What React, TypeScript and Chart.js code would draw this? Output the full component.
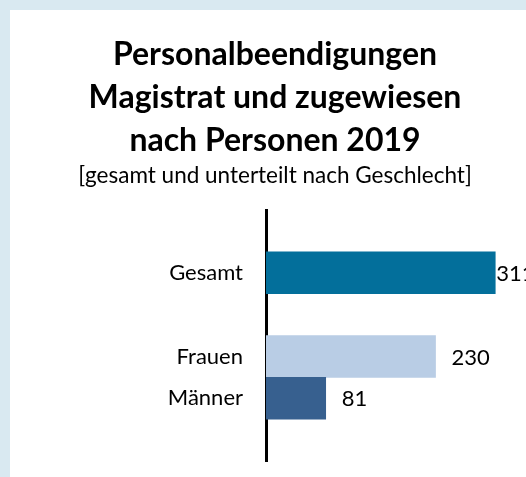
import React, { useEffect, useRef } from "react";
import { Chart, registerables } from "chart.js";

Chart.register(...registerables);

const titleLines = ["Personalbeendigungen", "Magistrat und zugewiesen", "nach Personen 2019"];
const subtitleText = "[gesamt und unterteilt nach Geschlecht]";
const categories = ["Gesamt", "Frauen", "Männer"];
const values = [311, 230, 81];
const barColors = ["#036f9b", "#b9cde5", "#37608f"];
const axisMax = 350;

// "Gesamt" stands on its own, then a blank row, then the two gender rows;
// one empty row pads the top and the bottom of the plot.
const rowLabels = ["", categories[0], "", categories[1], categories[2], ""];
const rowValues: (number | null)[] = [null, values[0], null, values[1], values[2], null];
const rowColors = ["transparent", barColors[0], "transparent", barColors[1], barColors[2], "transparent"];

const FONT = "Lato, 'Open Sans', sans-serif";

// Prints each bar's value to the right of it; when the text would run off
// the canvas it sits directly at the bar end instead.
const valueLabels = {
  id: "valueLabels",
  afterDatasetsDraw(chart: any) {
    const { ctx } = chart;
    const meta = chart.getDatasetMeta(0);
    ctx.save();
    ctx.font = `22px ${FONT}`;
    ctx.fillStyle = "#000";
    ctx.textBaseline = "middle";
    ctx.textAlign = "left";
    meta.data.forEach((bar: any, i: number) => {
      const v = rowValues[i];
      if (v == null) return;
      const text = String(v);
      const w = ctx.measureText(text).width;
      let x = bar.x + 16;
      if (x + w > chart.width) x = bar.x + 1;
      ctx.fillText(text, x, bar.y + 1);
    });
    ctx.restore();
  },
};

export default function App() {
  const canvasRef = useRef<HTMLCanvasElement | null>(null);

  useEffect(() => {
    if (!canvasRef.current) return;
    const chart = new Chart(canvasRef.current, {
      type: "bar",
      data: {
        labels: rowLabels,
        datasets: [
          {
            data: rowValues,
            backgroundColor: rowColors,
            borderWidth: 0,
            barPercentage: 1,
            categoryPercentage: 1,
          },
        ],
      },
      options: {
        indexAxis: "y",
        responsive: false,
        animation: false,
        layout: { padding: { top: 0, right: 2, bottom: 16, left: 16 } },
        plugins: {
          legend: { display: false },
          tooltip: { enabled: false },
          title: {
            display: true,
            text: titleLines,
            color: "#000",
            font: { family: FONT, size: 32, weight: "bold", lineHeight: 43 / 32 },
            padding: { top: 23, bottom: 0 },
          },
          subtitle: {
            display: true,
            text: subtitleText,
            color: "#000",
            font: { family: FONT, size: 22.5, lineHeight: 1.2 },
            padding: { top: 0, bottom: 21 },
          },
        },
        scales: {
          x: { display: false, min: 0, max: axisMax },
          y: {
            type: "category",
            grid: { display: false, drawTicks: false },
            border: { display: true, color: "#000", width: 3 },
            ticks: {
              color: "#000",
              autoSkip: false,
              padding: 23,
              font: { family: FONT, size: 22 },
            },
            afterFit(scale: any) {
              // fixed axis width; the label gap must not pad the plot vertically
              scale.width = 240;
              scale.paddingTop = 0;
              scale.paddingBottom = 0;
            },
          },
        },
      },
      plugins: [valueLabels],
    });
    return () => chart.destroy();
  }, []);

  return (
    <div
      style={{
        position: "absolute",
        left: 0,
        top: 0,
        width: 526,
        height: 477,
        background: "#d9e9f1",
        overflow: "hidden",
      }}
    >
      <div
        style={{
          position: "absolute",
          left: 10,
          top: 10,
          width: 516,
          height: 467,
          background: "#ffffff",
        }}
      >
        <canvas ref={canvasRef} width={516} height={467} style={{ display: "block" }} />
      </div>
    </div>
  );
}
